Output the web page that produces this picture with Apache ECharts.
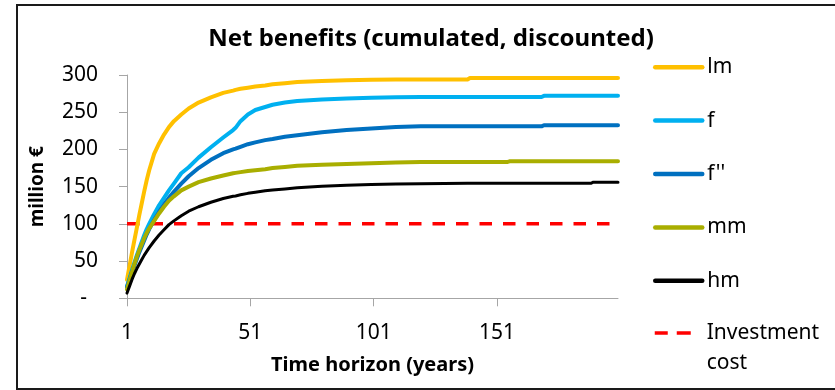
<!DOCTYPE html>
<html>
<head>
<meta charset="utf-8">
<script src="https://cdn.jsdelivr.net/npm/echarts@6/dist/echarts.min.js"></script>
<style>
  html, body { margin: 0; padding: 0; background: #fff; }
  #chart { width: 835px; height: 390px; }
</style>
</head>
<body>
<div id="chart"></div>
<script>
// Time horizon (years) at which the cumulated values are given
const years = [1, 2, 3, 4, 5, 6, 7, 8, 9, 10, 12, 14, 16, 18, 20, 23, 26, 30, 35, 40,
  44, 45, 47, 50, 53, 57, 60, 65, 70, 80, 90, 100, 110, 120, 139, 140, 155, 156, 169, 170, 189, 190, 200];

// Net benefits, cumulated and discounted (million €)
const lm = [25, 43, 61, 78, 95, 112, 128, 144, 159, 172, 194, 208, 220, 230, 238, 247, 255, 263, 270, 276,
  279, 280, 281.5, 283, 284.5, 286, 287.5, 289, 290.5, 292, 293, 293.5, 294, 294, 294, 296, 296, 296, 296, 296, 296, 296, 296];
const f = [16, 27, 38, 48, 58, 67, 76, 85, 93, 100, 113, 125, 135, 145, 154, 168, 176, 189, 203, 216,
  226, 229, 238, 247, 253, 257, 260, 263, 265, 267, 268.5, 269.5, 270, 270.5, 270.5, 270.5, 270.5, 270.5, 270.5, 272, 272, 272, 272];
const f2 = [15, 25, 35, 44, 53, 62, 70, 78, 86, 93, 105, 116, 126, 135, 143, 154, 164, 175, 186, 195,
  200, 201, 203.5, 207, 209.5, 212.5, 214, 217, 219, 223, 226, 228, 230, 231, 231, 231, 231, 231, 231, 232.5, 232.5, 232.5, 232.5];
const mm = [12, 24, 35, 46, 56, 65, 73, 81, 88, 94, 104, 114, 123, 131, 137, 145, 150, 156, 161, 165,
  168, 168.5, 169.5, 171, 172, 173.5, 175, 176.5, 178, 179.5, 180.5, 181.5, 182.5, 183, 183, 183, 183, 184, 184, 184, 184, 184, 184];
const hm = [7, 16, 25, 33, 40, 46, 52, 58, 63, 68, 77, 85, 92, 99, 104, 111, 117, 123, 129, 134,
  137, 137.5, 139, 141, 142.5, 144.5, 145.5, 147, 148.5, 150.5, 152, 153, 153.5, 154, 154.5, 154.5, 154.5, 154.5, 154.5, 154.5, 154.5, 156, 156];

// Investment cost (million €), flat over the horizon
const investYears = [1, 200];
const investCost = [100, 100];

// Axis ticks
const xTicks = [1, 51, 101, 151];

const FONT = 'Noto Sans';

function pairs(xs, ys) {
  return xs.map((x, i) => [x, ys[i]]);
}

function curve(name, values, color, width) {
  return {
    name: name,
    type: 'line',
    data: pairs(years, values),
    symbol: 'none',
    smooth: false,
    color: color,
    lineStyle: { color: color, width: width, cap: 'round', join: 'round' },
    emphasis: { disabled: true },
    z: 3
  };
}

// legend markers: line only, no point symbol
const hiddenMarker = { color: 'rgba(0,0,0,0)', borderWidth: 0, opacity: 0 };

const chart = echarts.init(document.getElementById('chart'), null, { renderer: 'canvas' });

chart.setOption({
  animation: false,
  backgroundColor: '#ffffff',
  textStyle: { fontFamily: FONT },
  title: {
    text: 'Net benefits (cumulated, discounted)',
    left: 431,
    textAlign: 'center',
    top: 27,
    padding: 0,
    textStyle: { fontFamily: FONT, fontWeight: 'bold', fontSize: 24, color: '#000' }
  },
  grid: { left: 127, right: 217, top: 75, bottom: 91.7, containLabel: false },
  xAxis: {
    type: 'value',
    min: 1,
    max: 200,
    name: 'Time horizon (years)',
    nameLocation: 'middle',
    nameGap: 57,
    nameTextStyle: { fontFamily: FONT, fontWeight: 'bold', fontSize: 20, color: '#000' },
    axisLine: { show: true, onZero: false, lineStyle: { color: '#a6a6a6', width: 1 } },
    axisTick: { show: true, length: 8, lineStyle: { color: '#a6a6a6' }, customValues: xTicks },
    axisLabel: { fontFamily: FONT, fontSize: 21, color: '#000', margin: 24, customValues: xTicks },
    splitLine: { show: false }
  },
  yAxis: {
    type: 'value',
    min: 0,
    max: 300,
    interval: 50,
    name: 'million €',
    nameLocation: 'middle',
    nameGap: 80,
    nameRotate: 90,
    nameTextStyle: { fontFamily: FONT, fontWeight: 'bold', fontSize: 19, color: '#000' },
    axisLine: { show: true, lineStyle: { color: '#a6a6a6', width: 1 } },
    axisTick: { show: true, length: 8, lineStyle: { color: '#a6a6a6' } },
    axisLabel: {
      fontFamily: FONT, fontSize: 21, color: '#000', margin: 29,
      formatter: v => (v === 0 ? '{dash|-}' : String(v)),
      rich: { dash: { fontFamily: FONT, fontSize: 21, color: '#000', padding: [0, 11, 0, 0] } }
    },
    splitLine: { show: false }
  },
  legend: [
    {
      data: ['lm', 'f', "f''", 'mm', 'hm'],
      orient: 'vertical',
      left: 653,
      top: 56.7,
      padding: 0,
      itemWidth: 47,
      itemHeight: 20,
      itemGap: 32.4,
      selectedMode: false,
      itemStyle: hiddenMarker,
      lineStyle: { width: 4.5, cap: 'round' },
      textStyle: { fontFamily: FONT, fontSize: 21, lineHeight: 20, color: '#000' }
    },
    {
      data: ['Investment cost'],
      orient: 'vertical',
      left: 653,
      top: 288,
      padding: 0,
      itemWidth: 47,
      itemHeight: 20,
      selectedMode: false,
      itemStyle: hiddenMarker,
      formatter: () => ' \nInvestment\ncost',
      lineStyle: { width: 3.5, type: [13, 9, 14, 20], cap: 'butt' },
      textStyle: { fontFamily: FONT, fontSize: 21, lineHeight: 30, color: '#000' }
    }
  ],
  graphic: [
    {
      type: 'rect',
      silent: true,
      shape: { x: 17, y: 5, width: 840, height: 384 },
      style: { fill: 'none', stroke: '#1a1a1a', lineWidth: 2 },
      z: 0
    }
  ],
  series: [
    curve('lm', lm, '#FFC000', 4),
    curve('f', f, '#00B0F0', 4),
    curve("f''", f2, '#0070C0', 4),
    curve('mm', mm, '#A9AE00', 4),
    curve('hm', hm, '#000000', 3),
    {
      name: 'Investment cost',
      type: 'line',
      data: pairs(investYears, investCost),
      symbol: 'none',
      color: '#FF0000',
      lineStyle: { color: '#FF0000', width: 3.5, type: [12.5, 11], cap: 'butt' },
      emphasis: { disabled: true },
      z: 2
    }
  ]
});
</script>
</body>
</html>
